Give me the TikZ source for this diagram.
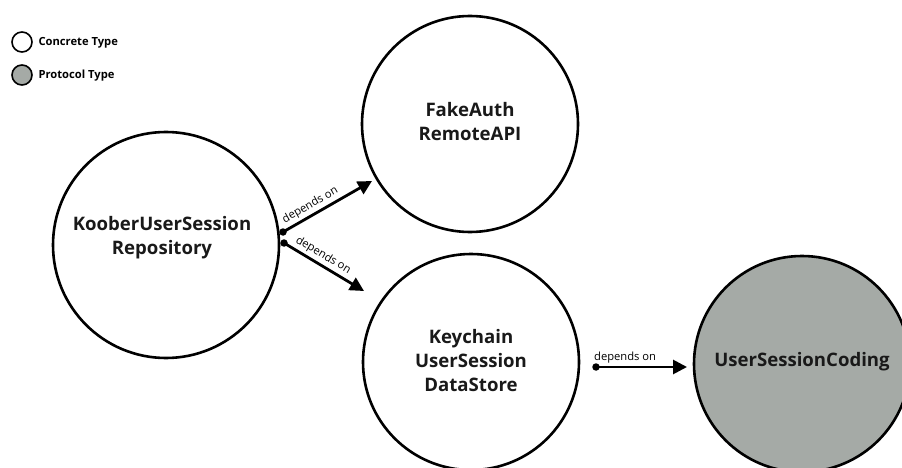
\documentclass[tikz,border=0pt]{standalone}
\usepackage{fontspec}
\setmainfont{Open Sans}
\usetikzlibrary{arrows.meta}
\definecolor{protogray}{RGB}{165,170,166}
\tikzset{
  typecircle/.style={draw=black, line width=2.6pt, circle},
  bigtext/.style={font=\bfseries\fontsize{18.6}{24}\selectfont, align=center, text=black!90},
  legtext/.style={font=\bfseries\fontsize{11.2}{13}\selectfont, anchor=west},
  deparrow/.style={line width=2.8pt, -{Triangle[length=14pt,width=14pt]}, shorten >=0pt},
  depdot/.style={circle, fill=black, inner sep=0pt, minimum size=7.5pt},
  deplabel/.style={font=\fontsize{11.2}{13}\selectfont, sloped, above, inner sep=2.5pt},
}
\begin{document}
\begin{tikzpicture}[x=1pt,y=-1pt]
\useasboundingbox (0,0) rectangle (902,468);
\clip (0,0) rectangle (902,468);
% legend
\draw[line width=1.6pt, fill=white] (22,42) circle (10);
\node[legtext] (lc) at (35,43) {Concrete Type};
\draw[line width=1.6pt, fill=protogray] (22,75) circle (10);
\node[legtext] (lp) at (35,76) {Protocol Type};
% circles
\draw[typecircle, fill=white] (166,245) circle (113);
\node[bigtext] (koober) at (162,238) {KooberUserSession\\Repository};
\draw[typecircle, fill=white] (470,124) circle (108);
\node[bigtext] (fake) at (470,122) {FakeAuth\\RemoteAPI};
\draw[typecircle, fill=white] (471,362) circle (108);
\node[bigtext] (key) at (471,361) {Keychain\\UserSession\\DataStore};
\draw[typecircle, fill=protogray] (802,364) circle (108);
\node[bigtext] (coding) at (802,362) {UserSessionCoding};
% connectors
\coordinate (s1) at (283,232);
\coordinate (e1) at (372,181);
\coordinate (s2) at (284,243);
\coordinate (e2) at (364,291);
\coordinate (s3) at (596,367);
\coordinate (e3) at (687,367);
\node[depdot] at (s1) {};
\node[depdot] at (s2) {};
\node[depdot] at (s3) {};
\draw[deparrow] (s1) -- node[deplabel, pos=0.36] {depends on} (e1);
\draw[deparrow] (s2) -- node[deplabel, pos=0.43] {depends on} (e2);
\draw[deparrow] (s3) -- node[deplabel, pos=0.32] {depends on} (e3);
\end{tikzpicture}
\end{document}
